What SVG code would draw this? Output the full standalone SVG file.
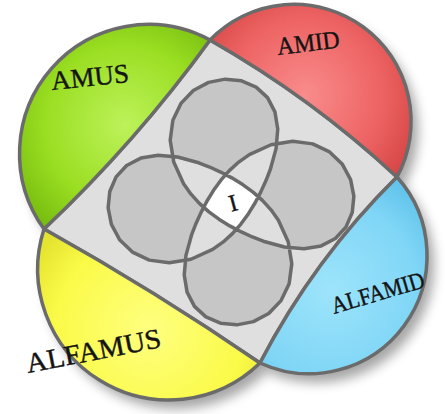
<svg xmlns="http://www.w3.org/2000/svg" width="445" height="414" viewBox="0 0 445 414">
<defs>
<style>
.edge{stroke:#6b6b6b;stroke-width:3.5;stroke-linejoin:round}
.lbl{font-family:"Liberation Serif","Times New Roman",serif;fill:#141414;stroke:#141414;stroke-width:0.4}
</style>
<radialGradient id="gGreen" gradientUnits="userSpaceOnUse" cx="125" cy="125" r="135"><stop offset="0" stop-color="#bdf25a"/><stop offset="0.6" stop-color="#9ade22"/><stop offset="1" stop-color="#72b80c"/></radialGradient>
<radialGradient id="gRed" gradientUnits="userSpaceOnUse" cx="305" cy="95" r="125"><stop offset="0" stop-color="#f98c8c"/><stop offset="0.6" stop-color="#ee6464"/><stop offset="1" stop-color="#d44444"/></radialGradient>
<radialGradient id="gBlue" gradientUnits="userSpaceOnUse" cx="330" cy="290" r="125"><stop offset="0" stop-color="#9de4fb"/><stop offset="0.7" stop-color="#80d6f6"/><stop offset="1" stop-color="#62c4ec"/></radialGradient>
<radialGradient id="gYellow" gradientUnits="userSpaceOnUse" cx="150" cy="330" r="135"><stop offset="0" stop-color="#ffff80"/><stop offset="0.7" stop-color="#fafa48"/><stop offset="1" stop-color="#e4e430"/></radialGradient>
<filter id="blur" x="-20%" y="-20%" width="140%" height="140%"><feGaussianBlur stdDeviation="6"/></filter>
<path id="core" d="M210,40 Q312,98 397,177 Q314,259 260,363 Q155,291 44,229 Q136,142 210,40 Z"/>
<path id="curve" d="M-17.45,-11.68 L-9.90,-22.04 L-1.43,-31.65 L8.09,-40.19 L18.34,-47.40 L40.02,-57.27 L61.72,-60.79 L81.69,-58.14 L98.59,-50.06 L111.42,-37.69 L119.60,-22.42 L122.86,-5.79 L121.22,10.56 L114.91,25.12 L104.36,36.54 L90.14,43.92 L72.93,46.76 L53.41,45.05 L32.30,39.24 L21.40,34.97 L10.39,29.93 L-0.76,24.15 L-11.68,17.45 L-22.04,9.90 L-31.65,1.43 L-40.19,-8.09 L-47.40,-18.34 L-57.27,-40.02 L-60.79,-61.72 L-58.14,-81.69 L-50.06,-98.59 L-37.69,-111.42 L-22.42,-119.60 L-5.79,-122.86 L10.56,-121.22 L25.12,-114.91 L36.54,-104.36 L43.92,-90.14 L46.76,-72.93 L45.05,-53.41 L39.24,-32.30 L34.97,-21.40 L29.93,-10.39 L24.15,0.76 L17.45,11.68 L9.90,22.04 L1.43,31.65 L-8.09,40.19 L-18.34,47.40 L-40.02,57.27 L-61.72,60.79 L-81.69,58.14 L-98.59,50.06 L-111.42,37.69 L-119.60,22.42 L-122.86,5.79 L-121.22,-10.56 L-114.91,-25.12 L-104.36,-36.54 L-90.14,-43.92 L-72.93,-46.76 L-53.41,-45.05 L-32.30,-39.24 L-21.40,-34.97 L-10.39,-29.93 L0.76,-24.15 L11.68,-17.45 L22.04,-9.90 L31.65,-1.43 L40.19,8.09 L47.40,18.34 L57.27,40.02 L60.79,61.72 L58.14,81.69 L50.06,98.59 L37.69,111.42 L22.42,119.60 L5.79,122.86 L-10.56,121.22 L-25.12,114.91 L-36.54,104.36 L-43.92,90.14 L-46.76,72.93 L-45.05,53.41 L-39.24,32.30 L-34.97,21.40 L-29.93,10.39 L-24.15,-0.76 Z"/>
</defs>
<rect width="445" height="414" fill="#ffffff"/>
<g id="shadow" transform="translate(7,9)" opacity="0.35" filter="url(#blur)" fill="#000">
<use href="#core"/>
<path d="M44,229 A129,129 0 0 1 210,40 Z"/>
<path d="M210,40 A117,117 0 0 1 397,177 Z"/>
<path d="M397,177 A118,118 0 0 1 260,363 Z"/>
<path d="M260,363 A131,131 0 0 1 44,229 Z"/>
</g>
<g id="center-area">
<use href="#core" fill="#dfdfdf"/>
<use href="#curve" transform="translate(231,202)" fill="#c6c6c6" fill-rule="evenodd"/>
<path id="intersection" transform="translate(231,202)" fill="#ffffff" d="M-5.34,-26.98 L11.68,-17.45 L26.98,-5.34 L17.45,11.68 L5.34,26.98 L-11.68,17.45 L-26.98,5.34 L-17.45,-11.68 Z"/>
<use href="#curve" transform="translate(231,202)" fill="none" class="edge"/>
<use href="#core" fill="none" class="edge"/>
</g>
<g id="set-amus">
<path class="edge" fill="url(#gGreen)" d="M44,229 A129,129 0 0 1 210,40 Q136,142 44,229 Z"/>
</g>
<g id="set-amid">
<path class="edge" fill="url(#gRed)" d="M210,40 A117,117 0 0 1 397,177 Q312,98 210,40 Z"/>
</g>
<g id="set-alfamid">
<path class="edge" fill="url(#gBlue)" d="M397,177 A118,118 0 0 1 260,363 Q314,259 397,177 Z"/>
</g>
<g id="set-alfamus">
<path class="edge" fill="url(#gYellow)" d="M260,363 A131,131 0 0 1 44,229 Q155,291 260,363 Z"/>
</g>
<g id="labels">
<text class="lbl" x="52" y="90" font-size="27" textLength="78" lengthAdjust="spacingAndGlyphs" transform="rotate(-6 52 90)">AMUS</text>
<text class="lbl" x="278" y="55" font-size="25" textLength="63" lengthAdjust="spacingAndGlyphs" transform="rotate(-7 278 55)">AMID</text>
<text class="lbl" x="334" y="314" font-size="24" textLength="96" lengthAdjust="spacingAndGlyphs" transform="rotate(-16.5 334 314)">ALFAMID</text>
<text class="lbl" x="28" y="373" font-size="28" textLength="137" lengthAdjust="spacingAndGlyphs" transform="rotate(-11 28 373)">ALFAMUS</text>
<text class="lbl" x="233" y="211" font-size="24" text-anchor="middle" transform="rotate(-15 233 203)">I</text>
</g>
</svg>
